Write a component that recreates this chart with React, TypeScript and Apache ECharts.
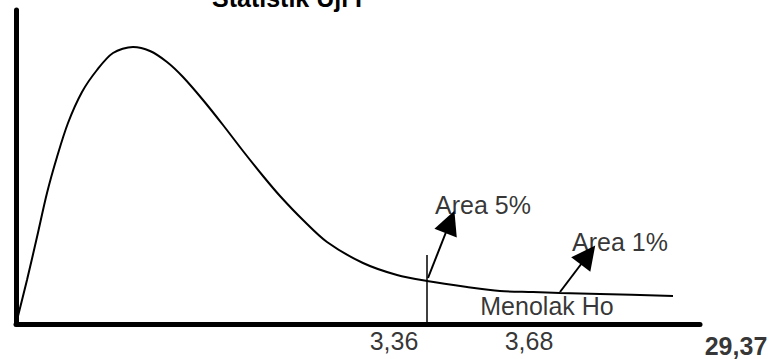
import React, { useEffect, useRef } from "react";
import * as echarts from "echarts";

// F-distribution schematic curve (x, density) in chart units
const curveX = [0, 0.11, 0.21, 0.31, 0.41, 0.52, 0.66, 0.81, 0.97, 1.17, 1.34, 1.51, 1.67, 1.87, 2.07, 2.27, 2.47, 2.64, 2.87, 3.11, 3.47, 3.81, 4.11, 4.51, 4.84, 5.17, 5.44, 5.84, 6.57];
const curveY = [0, 0.44, 0.87, 1.31, 1.67, 2.01, 2.32, 2.54, 2.71, 2.77, 2.73, 2.62, 2.47, 2.24, 1.99, 1.73, 1.48, 1.28, 1.04, 0.82, 0.61, 0.49, 0.43, 0.37, 0.33, 0.32, 0.31, 0.30, 0.28];

// critical value marker
const criticalX = 4.11;
const criticalTop = 0.69;

// tick labels along the x axis
const tickLabels = ["3,36", "3,68"];
const tickX = [3.78, 5.13];
const endLabel = "29,37";
const endLabelX = 7.2;

// annotations
const noteTexts = ["Area 5%", "Area 1%", "Menolak Ho"];
const noteX = [4.67, 6.04, 5.31];
const noteY = [1.19, 0.82, 0.18];

// arrows: from -> to
const arrowFrom = [[4.12, 0.46], [5.44, 0.32]];
const arrowTo = [[4.34, 1.02], [5.72, 0.69]];

const titleText = "Statistik Uji F";
const FONT = "'Liberation Sans', Arial, Helvetica, sans-serif";

export default function App() {
  const ref = useRef<HTMLDivElement>(null);
  useEffect(() => {
    if (!ref.current) return;
    const chart = echarts.init(ref.current, undefined, { renderer: "svg" });
    const axisCommon = {
      type: "value" as const,
      axisLine: { show: true, onZero: false, lineStyle: { color: "#000", width: 5 } },
      axisTick: { show: false },
      axisLabel: { show: false },
      splitLine: { show: false },
    };
    chart.setOption({
      animation: false,
      backgroundColor: "#fff",
      title: {
        text: titleText,
        left: 207,
        top: -20,
        textStyle: { fontFamily: FONT, fontSize: 25, fontWeight: "bold", color: "#000" },
      },
      grid: { left: 16, right: 74, top: 10, bottom: 35 },
      xAxis: { ...axisCommon, min: 0, max: 6.84 },
      yAxis: { ...axisCommon, min: 0, max: 3.14 },
      series: [
        {
          type: "line",
          data: curveX.map((x, i) => [x, curveY[i]]),
          smooth: 0.3,
          showSymbol: false,
          lineStyle: { color: "#000", width: 2 },
          emphasis: { disabled: true },
          markLine: {
            silent: true,
            animation: false,
            label: { show: false },
            emphasis: { disabled: true },
            data: [
              [
                { coord: [criticalX, 0], symbol: "none", lineStyle: { color: "#000", width: 1.5, type: "solid" } },
                { coord: [criticalX, criticalTop], symbol: "none" },
              ],
              ...arrowFrom.map((f, i) => [
                { coord: f, symbol: "none", lineStyle: { color: "#000", width: 2, type: "solid" } },
                { coord: arrowTo[i], symbol: "triangle", symbolSize: 24 },
              ]),
            ],
          },
        },
        {
          type: "scatter",
          symbolSize: 0,
          clip: false,
          silent: true,
          data: noteTexts.map((t, i) => ({ name: t, value: [noteX[i], noteY[i]] })),
          label: {
            show: true,
            position: "inside",
            formatter: (p: any) => p.name,
            fontFamily: FONT,
            fontSize: 25,
            color: "#000",
          },
        },
        {
          type: "scatter",
          symbolSize: 0,
          clip: false,
          silent: true,
          data: tickLabels.map((t, i) => ({ name: t, value: [tickX[i], 0] })),
          label: {
            show: true,
            position: "inside",
            offset: [0, 17],
            formatter: (p: any) => p.name,
            fontFamily: FONT,
            fontSize: 25,
            color: "#000",
          },
        },
        {
          type: "scatter",
          symbolSize: 0,
          clip: false,
          silent: true,
          data: [{ name: endLabel, value: [endLabelX, 0] }],
          label: {
            show: true,
            position: "inside",
            offset: [0, 22],
            formatter: (p: any) => p.name,
            fontFamily: FONT,
            fontSize: 25,
            fontWeight: "bold",
            color: "#000",
          },
        },
      ],
    });
    return () => chart.dispose();
  }, []);
  return (
    <div
      ref={ref}
      style={{ position: "fixed", left: 0, top: 0, width: 774, height: 359 }}
    />
  );
}
